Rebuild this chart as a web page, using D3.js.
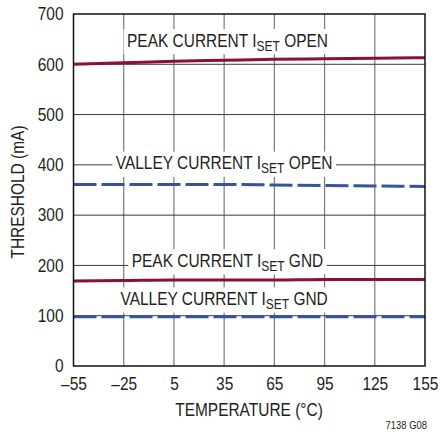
<!DOCTYPE html>
<html>
<head>
<meta charset="utf-8">
<script src="https://cdn.jsdelivr.net/npm/d3@7"></script>
<style>
  html, body { margin: 0; padding: 0; background: #fff; }
  svg { display: block; }
  text { font-family: "Liberation Sans", Arial, sans-serif; fill: #231f20; }
</style>
</head>
<body>
<svg id="chart" width="440" height="432"></svg>
<script>
const temperatures = [-55, -25, 5, 35, 65, 95, 125, 155];
const peakOpen   = [600, 603, 606, 608, 610, 611, 612, 613];
const valleyOpen = [361, 361, 361, 361, 360, 359, 358, 357];
const peakGnd    = [169, 170, 171, 171, 171, 172, 172, 172];
const valleyGnd  = [98, 98, 98, 98, 98, 98, 98, 98];
const xTicks = [-55, -25, 5, 35, 65, 95, 125, 155];
const yTicks = [0, 100, 200, 300, 400, 500, 600, 700];
const labels = [
  { main: "PEAK CURRENT I", sub: "SET", rest: " OPEN", t: 37, v: 648 },
  { main: "VALLEY CURRENT I", sub: "SET", rest: " OPEN", t: 35, v: 404 },
  { main: "PEAK CURRENT I", sub: "SET", rest: " GND", t: 37, v: 210 },
  { main: "VALLEY CURRENT I", sub: "SET", rest: " GND", t: 35, v: 134 }
];

const SX = 0.86; // condensed look
const svg = d3.select("#chart");
const m = { left: 73.5, right: 425, top: 14, bottom: 366 };
const x = d3.scaleLinear().domain([-55, 155]).range([m.left, m.right]);
const y = d3.scaleLinear().domain([0, 700]).range([m.bottom, m.top]);

// grid
const grid = svg.append("g");
grid.selectAll("line.v").data(xTicks.slice(1, -1)).enter().append("line")
  .attr("x1", d => x(d)).attr("x2", d => x(d))
  .attr("y1", m.top).attr("y2", m.bottom)
  .attr("stroke", "#7a7a7a").attr("stroke-width", 1.2);
grid.selectAll("line.h").data(yTicks.slice(1, -1)).enter().append("line")
  .attr("x1", m.left).attr("x2", m.right)
  .attr("y1", d => y(d)).attr("y2", d => y(d))
  .attr("stroke", "#3a3a3a").attr("stroke-width", 1);

// labels with white background
labels.forEach(l => {
  const g = svg.append("g").attr("transform", `translate(${x(l.t)},${y(l.v)}) scale(${SX},1)`);
  const t = g.append("text")
    .attr("text-anchor", "middle").attr("dominant-baseline", "central")
    .attr("font-size", 18);
  t.append("tspan").text(l.main);
  t.append("tspan").attr("font-size", 14).attr("dy", 5).text(l.sub);
  t.append("tspan").attr("dy", -5).text(l.rest);
  const bb = t.node().getBBox();
  g.insert("rect", () => t.node())
    .attr("x", bb.x - 4).attr("y", bb.y - 1)
    .attr("width", bb.width + 8).attr("height", bb.height + 2)
    .attr("fill", "#fff");
});

// series
const line = d3.line().x((d, i) => x(temperatures[i])).y(d => y(d)).curve(d3.curveMonotoneX);
const series = [
  { data: valleyGnd, color: "#3552a3", dash: "23,5" },
  { data: peakGnd, color: "#8c0f35", dash: null },
  { data: valleyOpen, color: "#3552a3", dash: "23,5" },
  { data: peakOpen, color: "#8c0f35", dash: null }
];
series.forEach(s => {
  svg.append("path").datum(s.data)
    .attr("d", line)
    .attr("fill", "none")
    .attr("stroke", s.color)
    .attr("stroke-width", 3)
    .attr("stroke-dasharray", s.dash);
});

// frame
svg.append("rect")
  .attr("x", m.left).attr("y", m.top)
  .attr("width", m.right - m.left).attr("height", m.bottom - m.top)
  .attr("fill", "none").attr("stroke", "#111").attr("stroke-width", 1.5);

// axes labels
const xAxis = d3.axisBottom(x).tickValues(xTicks).tickSize(0).tickPadding(11)
  .tickFormat(d => d < 0 ? "\u2013" + Math.abs(d) : d);
const gx = svg.append("g").attr("transform", `translate(0,${m.bottom})`).call(xAxis);
gx.select(".domain").remove();
gx.selectAll("text").attr("font-size", 18).attr("fill", "#231f20")
  .attr("transform", `scale(${SX},1)`)
  .style("font-family", '"Liberation Sans", Arial, sans-serif');

const yAxis = d3.axisLeft(y).tickValues(yTicks).tickSize(0).tickPadding(10);
const gy = svg.append("g").attr("transform", `translate(${m.left},0)`).call(yAxis);
gy.select(".domain").remove();
gy.selectAll("text").attr("font-size", 18).attr("fill", "#231f20")
  .attr("x", -10 / SX)
  .attr("transform", `scale(${SX},1)`)
  .style("font-family", '"Liberation Sans", Arial, sans-serif');

svg.append("text")
  .attr("transform", `translate(249,416) scale(${SX},1)`)
  .attr("text-anchor", "middle").attr("font-size", 18)
  .text("TEMPERATURE (\u00B0C)");

svg.append("text")
  .attr("transform", `translate(24,192) rotate(-90) scale(${SX},1)`)
  .attr("text-anchor", "middle").attr("font-size", 18)
  .text("THRESHOLD (mA)");

svg.append("text")
  .attr("transform", `translate(427,429) scale(${SX},1)`)
  .attr("text-anchor", "end").attr("font-size", 11)
  .text("7138 G08");
</script>
</body>
</html>
